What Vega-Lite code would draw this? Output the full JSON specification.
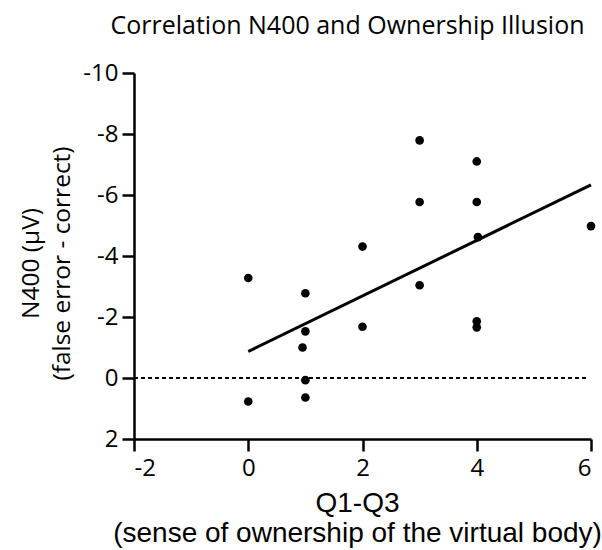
{
  "$schema": "https://vega.github.io/schema/vega-lite/v6.json",
  "autosize": "none",
  "width": 457,
  "height": 366,
  "padding": {"left": 134, "top": 73, "right": 11, "bottom": 111},
  "background": "white",
  "title": {
    "text": "Correlation N400 and Ownership Illusion",
    "font": "Open Sans",
    "fontSize": 25,
    "fontWeight": "normal",
    "color": "black",
    "anchor": "middle",
    "dx": -15,
    "offset": 22
  },
  "config": {
    "view": {"stroke": null},
    "axis": {
      "grid": false,
      "domainColor": "black",
      "domainWidth": 2.5,
      "tickColor": "black",
      "tickWidth": 2.5,
      "tickSize": 12,
      "labelFont": "Open Sans",
      "labelFontSize": 24,
      "labelColor": "black",
      "titleFontWeight": "normal",
      "titleColor": "black"
    }
  },
  "data": {
    "values": [
      {"x": 0, "y": -3.28},
      {"x": 0, "y": 0.77},
      {"x": 1, "y": -2.78},
      {"x": 1, "y": -1.53},
      {"x": 0.95, "y": -1.0},
      {"x": 1, "y": 0.07},
      {"x": 1, "y": 0.64},
      {"x": 2, "y": -4.31},
      {"x": 2, "y": -1.68},
      {"x": 3, "y": -7.79},
      {"x": 3, "y": -5.77},
      {"x": 3, "y": -3.04},
      {"x": 4, "y": -7.1},
      {"x": 4, "y": -5.77},
      {"x": 4.02, "y": -4.62},
      {"x": 4, "y": -1.86},
      {"x": 4, "y": -1.66},
      {"x": 6, "y": -4.98}
    ]
  },
  "layer": [
    {
      "mark": {"type": "rule", "strokeDash": [3.5, 3.5], "strokeWidth": 1.5, "color": "black"},
      "encoding": {
        "y": {"datum": 0, "type": "quantitative", "scale": {"domain": [-10, 2], "reverse": true}},
        "x": {"datum": -2, "type": "quantitative"},
        "x2": {"datum": 5.95}
      }
    },
    {
      "mark": {"type": "point", "filled": true, "color": "black", "size": 75, "opacity": 1},
      "encoding": {
        "x": {
          "field": "x", "type": "quantitative",
          "scale": {"domain": [-2, 6], "nice": false, "zero": false},
          "axis": {
            "values": [-2, 0, 2, 4, 6],
            "labelExpr": "'' + datum.value",
            "labelPadding": 5,
            "title": ["Q1-Q3", "(sense of ownership of the virtual body)"],
            "titleFont": "Liberation Sans",
            "titleFontSize": 28,
            "titleLineHeight": 30,
            "titleBaseline": "alphabetic",
            "titleX": 223,
            "titleY": 72
          }
        },
        "y": {
          "field": "y", "type": "quantitative",
          "scale": {"domain": [-10, 2], "reverse": true, "nice": false, "zero": false},
          "axis": {
            "values": [-10, -8, -6, -4, -2, 0, 2],
            "labelExpr": "'' + datum.value",
            "labelPadding": 4,
            "title": ["N400 (µV)", "(false error - correct)"],
            "titleFont": "Open Sans",
            "titleFontSize": 24.5,
            "titleLineHeight": 31,
            "titleBaseline": "alphabetic",
            "titleAngle": -90,
            "titleX": -96,
            "titleY": 190
          }
        }
      }
    },
    {
      "transform": [{"regression": "y", "on": "x", "extent": [0, 6]}],
      "mark": {"type": "line", "color": "black", "strokeWidth": 3},
      "encoding": {
        "x": {"field": "x", "type": "quantitative"},
        "y": {"field": "y", "type": "quantitative"}
      }
    }
  ]
}
